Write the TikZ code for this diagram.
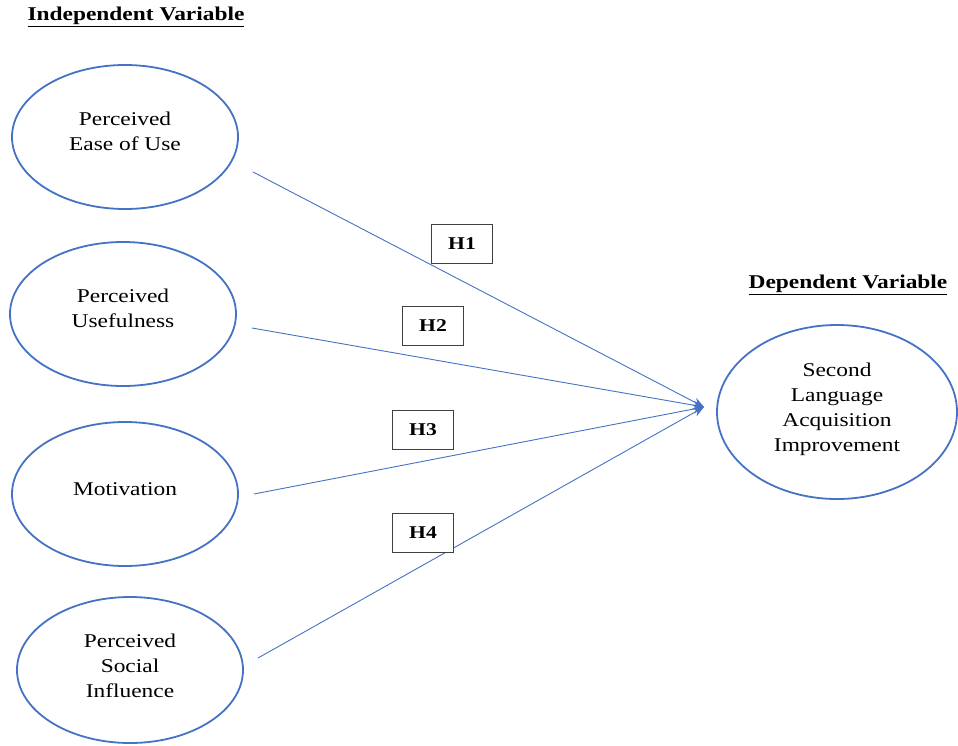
\documentclass[tikz,border=0pt]{standalone}
\usepackage{fontspec}
\setmainfont[FakeStretch=1.2]{Liberation Serif}
\definecolor{tamblue}{RGB}{68,114,196}
\definecolor{tamgray}{RGB}{64,64,64}
\usetikzlibrary{arrows.meta,positioning,shapes.geometric}

\begin{document}
\begin{tikzpicture}[x=1pt,y=-1pt,
  construct/.style={draw=tamblue,line width=1.8pt,ellipse,inner sep=0pt,
    minimum width=226pt,minimum height=144pt},
  cname/.style={align=center,inner sep=0pt,font=\fontsize{19.5}{25}\selectfont},
  hyp/.style={draw=tamgray,line width=1.2pt,fill=white,minimum width=61pt,
    minimum height=39pt,inner sep=0pt,font=\fontsize{18}{22}\selectfont\bfseries},
  heading/.style={font=\fontsize{19.5}{22}\selectfont\bfseries},
  path/.style={-{Stealth[length=11pt,width=9pt]},tamblue,line width=0.9pt}]
  \useasboundingbox (0,0) rectangle (958,745);
  \node[construct] (peou) at (125,137) {};
  \node[construct] (pu) at (123,314) {};
  \node[construct] (mot) at (125,494) {};
  \node[construct,minimum height=146pt] (psi) at (130,670) {};
  \node[construct,minimum width=240pt,minimum height=174pt] (sla) at (837,412) {};
  \node[cname] (peoutext) at ([yshift=6pt]peou.center) {Perceived\\Ease of Use};
  \node[cname] (putext) at ([yshift=6pt]pu.center) {Perceived\\Usefulness};
  \node[cname] (mottext) at ([yshift=5pt]mot.center) {Motivation};
  \node[cname] (psitext) at ([yshift=4pt]psi.center) {Perceived\\Social\\Influence};
  \node[cname] (slatext) at ([yshift=3pt]sla.center) {Second\\Language\\Acquisition\\Improvement};
  \node[heading] (iv) at (136,17) {\underline{Independent Variable}};
  \node[heading] (dv) at (848,285) {\underline{Dependent Variable}};
  % start and end of the hypothesis paths
  \coordinate (s1) at (253,172);
  \coordinate (s2) at (252,328);
  \coordinate (s3) at (254,494);
  \coordinate (s4) at (258,658);
  \coordinate (tip) at (704,407);
  \draw[path] (s1) -- (tip);
  \draw[path] (s2) -- (tip);
  \draw[path] (s3) -- (tip);
  \draw[path] (s4) -- (tip);
  \node[hyp] (h1) at (462,244) {H1};
  \node[hyp] (h2) at (433,326) {H2};
  \node[hyp] (h3) at (423,430) {H3};
  \node[hyp] (h4) at (423,533) {H4};
\end{tikzpicture}
\end{document}
